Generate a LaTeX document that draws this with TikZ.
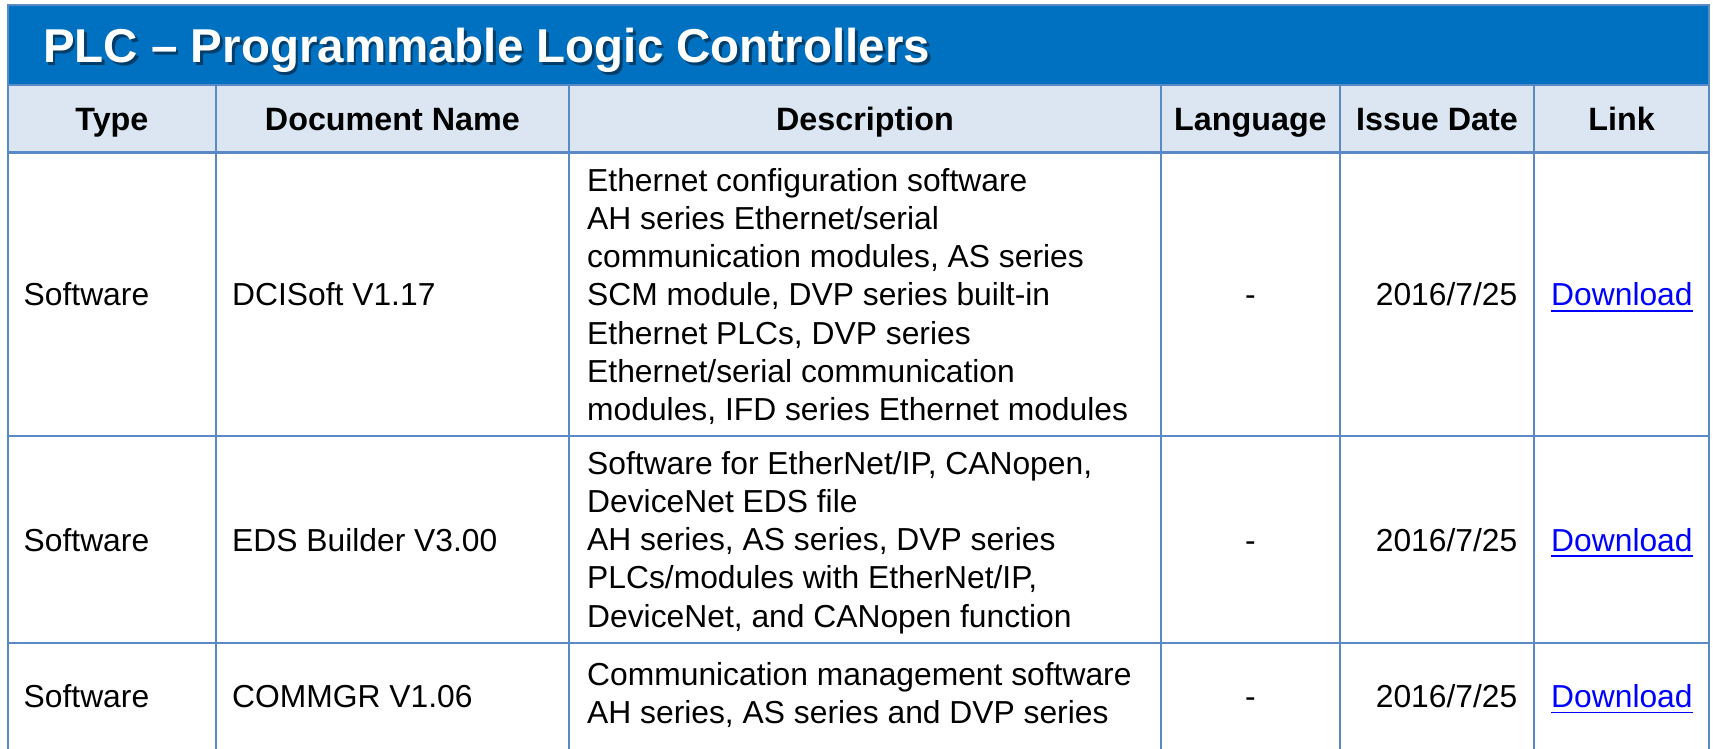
\documentclass[tikz,border=0pt]{standalone}
\usepackage{fontspec}
\setmainfont{Liberation Sans}
\definecolor{titleblue}{HTML}{0070C0}
\definecolor{headfill}{HTML}{DCE6F2}
\definecolor{gridblue}{HTML}{5A8AC6}
\definecolor{linkblue}{HTML}{0000FF}
\begin{document}
\begin{tikzpicture}[x=1pt,y=-1pt,
  cell/.style={inner sep=0pt, font=\fontsize{31.8}{38.2}\selectfont, text=black},
  head/.style={inner sep=0pt, anchor=base, font=\fontsize{32.3}{36}\selectfont\bfseries, text=black},
  desc/.style={cell, anchor=north west, align=left},
  plain/.style={cell, anchor=base west},
  linktext/.style={cell, anchor=base west, text=linkblue},
  uline/.style={draw=linkblue, line width=1.8pt},
  gridline/.style={draw=gridblue, line width=2.2pt},
  titletext/.style={inner sep=0pt, anchor=base west, font=\fontsize{47.5}{52}\selectfont\bfseries}
]
\useasboundingbox[fill=white] (0,0) rectangle (1713,749);
% backgrounds
\fill[titleblue] (8,5) rectangle (1709,85);
\fill[headfill] (8,85) rectangle (1709,152.5);
% title with shadow
\node[titletext, text=black, opacity=0.45] (titleshadow) at (45.5,65.5) {PLC – Programmable Logic Controllers};
\node[titletext, text=white] (title) at (43,63) {PLC – Programmable Logic Controllers};
% grid
\draw[gridline] (8,749) -- (8,5) -- (1709,5) -- (1709,749);
\draw[gridline] (8,85) -- (1709,85);
\draw[gridline] (8,152.5) -- (1709,152.5);
\draw[gridline] (8,436) -- (1709,436);
\draw[gridline] (8,643) -- (1709,643);
\foreach \cx in {215.7,569,1160.7,1340,1534}
  \draw[gridline] (\cx,85) -- (\cx,749);
% header
\node[head] (hType) at (111.9,130.5) {Type};
\node[head] (hDoc) at (392.4,130.5) {Document Name};
\node[head] (hDesc) at (864.9,130.5) {Description};
\node[head] (hLang) at (1250.4,130.5) {Language};
\node[head] (hDate) at (1437,130.5) {Issue Date};
\node[head] (hLink) at (1621.5,130.5) {Link};
% row 1
\node[plain] (t1) at (23.5,305.7) {Software};
\node[plain] (n1) at (232,305.7) {DCISoft V1.17};
\node[desc] (d1) at (587,168) {Ethernet configuration software\\AH series Ethernet/serial\\communication modules, AS series\\SCM module, DVP series built-in\\Ethernet PLCs, DVP series\\Ethernet/serial communication\\modules, IFD series Ethernet modules};
\node[cell, anchor=base] (l1) at (1250.4,305.7) {-};
\node[cell, anchor=base east] (i1) at (1517.5,305.7) {2016/7/25};
\node[linktext] (k1) at (1551,305.7) {Download};
\draw[uline] ([yshift=-5pt]k1.base west) -- ([yshift=-5pt]k1.base east);
% row 2
\node[plain] (t2) at (23.5,551) {Software};
\node[plain] (n2) at (232,551) {EDS Builder V3.00};
\node[desc] (d2) at (587,451) {Software for EtherNet/IP, CANopen,\\DeviceNet EDS file\\AH series, AS series, DVP series\\PLCs/modules with EtherNet/IP,\\DeviceNet, and CANopen function};
\node[cell, anchor=base] (l2) at (1250.4,551) {-};
\node[cell, anchor=base east] (i2) at (1517.5,551) {2016/7/25};
\node[linktext] (k2) at (1551,551) {Download};
\draw[uline] ([yshift=-5pt]k2.base west) -- ([yshift=-5pt]k2.base east);
% row 3
\node[plain] (t3) at (23.5,707.5) {Software};
\node[plain] (n3) at (232,707.5) {COMMGR V1.06};
\node[desc] (d3) at (587,662.5) {Communication management software\\AH series, AS series and DVP series};
\node[cell, anchor=base] (l3) at (1250.4,707.5) {-};
\node[cell, anchor=base east] (i3) at (1517.5,707.5) {2016/7/25};
\node[linktext] (k3) at (1551,707.5) {Download};
\draw[uline] ([yshift=-5pt]k3.base west) -- ([yshift=-5pt]k3.base east);
\end{tikzpicture}
\end{document}
